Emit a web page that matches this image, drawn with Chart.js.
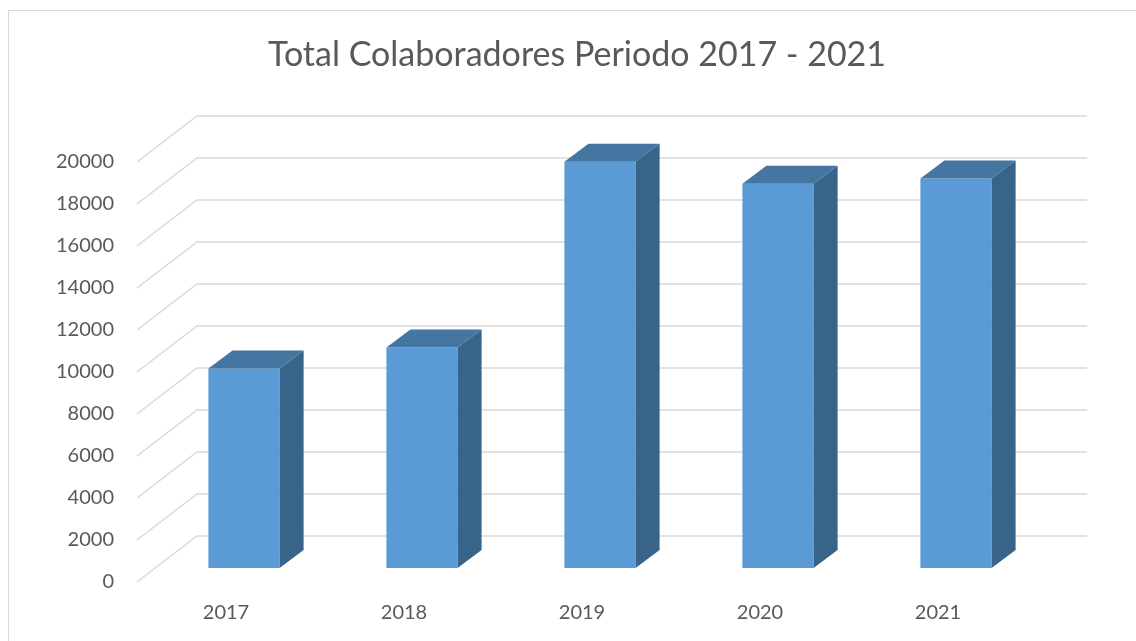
<!DOCTYPE html>
<html>
<head>
<meta charset="utf-8">
<script src="https://cdn.jsdelivr.net/npm/chart.js@4.4.1/dist/chart.umd.min.js"></script>
<style>
  html, body { margin: 0; padding: 0; background: #ffffff; }
  #wrap { position: relative; width: 1136px; height: 641px; }
</style>
</head>
<body>
<div id="wrap"><canvas id="c" width="1136" height="641"></canvas></div>
<script>
const categories = ["2017", "2018", "2019", "2020", "2021"];
const colaboradores = [9500, 10500, 19350, 18300, 18550];
const yTicks = [0, 2000, 4000, 6000, 8000, 10000, 12000, 14000, 16000, 18000, 20000];
const chartTitle = "Total Colaboradores Periodo 2017 - 2021";

// 3D geometry (pixels)
const WALL_DX = 60, WALL_DY = -46;   // depth of the back wall
const BAR_DX = 18, BAR_DY = -14;     // position of bar front plane
const BAR_DEPTH_X = 24, BAR_DEPTH_Y = -18; // bar depth

const threeD = {
  id: 'threeD',
  beforeDraw(chart) {
    const ctx = chart.ctx;
    ctx.save();
    ctx.strokeStyle = '#d9d9d9';
    ctx.lineWidth = 1;
    ctx.strokeRect(8.5, 10.5, 1300, 700);
    // chart title
    ctx.fillStyle = '#595959';
    ctx.font = 'normal 34px Lato';
    ctx.textAlign = 'center';
    ctx.textBaseline = 'middle';
    ctx.fillText(chartTitle, 577, 55.4);
    ctx.restore();
  },
  beforeDatasetsDraw(chart) {
    const ctx = chart.ctx;
    const area = chart.chartArea;
    const ys = chart.scales.y;
    ctx.save();
    ctx.strokeStyle = '#d9d9d9';
    ctx.lineWidth = 1.5;
    yTicks.forEach(v => {
      const y = ys.getPixelForValue(v);
      ctx.beginPath();
      ctx.moveTo(area.left, y);
      ctx.lineTo(area.left + WALL_DX, y + WALL_DY);
      ctx.lineTo(area.right + WALL_DX, y + WALL_DY);
      ctx.stroke();
    });
    ctx.restore();
    ctx.save();
    ctx.translate(BAR_DX, BAR_DY);
  },
  afterDatasetsDraw(chart) {
    const ctx = chart.ctx;
    ctx.restore();
    const meta = chart.getDatasetMeta(0);
    ctx.save();
    meta.data.forEach(bar => {
      const p = bar.getProps(['x', 'y', 'base', 'width'], true);
      const L = p.x - p.width / 2 + BAR_DX;
      const R = p.x + p.width / 2 + BAR_DX;
      const T = p.y + BAR_DY;
      const B = p.base + BAR_DY;
      // top face
      ctx.fillStyle = '#4576a2';
      ctx.beginPath();
      ctx.moveTo(L, T);
      ctx.lineTo(R, T);
      ctx.lineTo(R + BAR_DEPTH_X, T + BAR_DEPTH_Y);
      ctx.lineTo(L + BAR_DEPTH_X, T + BAR_DEPTH_Y);
      ctx.closePath();
      ctx.fill();
      // side face
      ctx.fillStyle = '#386489';
      ctx.beginPath();
      ctx.moveTo(R, T);
      ctx.lineTo(R + BAR_DEPTH_X, T + BAR_DEPTH_Y);
      ctx.lineTo(R + BAR_DEPTH_X, B + BAR_DEPTH_Y);
      ctx.lineTo(R, B);
      ctx.closePath();
      ctx.fill();
    });
    ctx.restore();
  }
};

new Chart(document.getElementById('c'), {
  type: 'bar',
  data: {
    labels: categories,
    datasets: [{
      label: 'Colaboradores',
      data: colaboradores,
      backgroundColor: '#5b9bd5',
      borderWidth: 0,
      categoryPercentage: 1.0,
      barPercentage: 0.4
    }]
  },
  options: {
    responsive: false,
    animation: false,
    layout: { padding: { left: 0, right: 109, top: 162, bottom: 0 } },
    plugins: {
      legend: { display: false },
      tooltip: { enabled: false },
      title: { display: false }
    },
    scales: {
      x: {
        offset: true,
        grid: { display: false },
        border: { display: false },
        ticks: { color: '#595959', font: { family: 'Lato', size: 20 }, padding: 11, maxRotation: 0 },
        afterFit(scale) { scale.height = 59; }
      },
      y: {
        min: 0,
        max: 20000,
        grid: { display: false },
        border: { display: false },
        afterBuildTicks(scale) { scale.ticks = yTicks.map(v => ({ value: v })); },
        ticks: {
          color: '#595959',
          font: { family: 'Lato', size: 20 },
          padding: 15,
          callback: v => String(v)
        },
        afterFit(scale) { scale.width = 137; }
      }
    }
  },
  plugins: [threeD]
});
</script>
</body>
</html>
